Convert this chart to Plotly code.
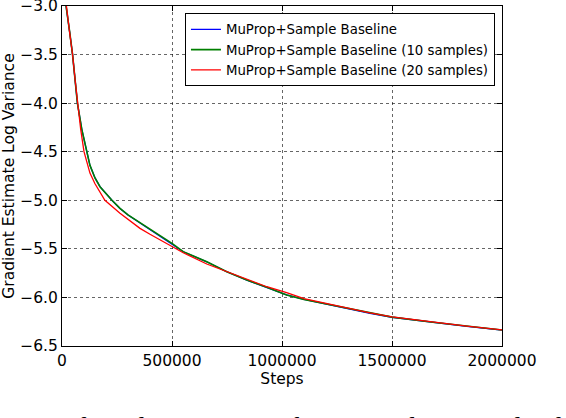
import plotly.graph_objects as go

# Steps (x) and log-variance values
steps_green = [0, 20000, 35000, 48000, 60000, 70000, 90000, 112000, 127000, 150000, 172700,
               227000, 263600, 300000, 354500, 400000, 500000, 551000, 658000, 749000, 840000,
               931000, 1021000, 1100000, 1200000, 1300000, 1400000, 1500000, 1686000, 1840000,
               2000000]
green_vals = [-2.70, -3.00, -3.27, -3.50, -3.76, -4.00, -4.27, -4.50, -4.64, -4.77, -4.86,
              -5.00, -5.083, -5.15, -5.231, -5.30, -5.443, -5.529, -5.632, -5.735, -5.82,
              -5.896, -5.975, -6.022, -6.068, -6.117, -6.162, -6.203, -6.256, -6.297,
              -6.335]

steps_blue = steps_green
blue_vals = [-2.70, -3.00, -3.27, -3.50, -3.76, -4.00, -4.27, -4.50, -4.64, -4.77, -4.86,
             -5.00, -5.085, -5.152, -5.233, -5.302, -5.445, -5.530, -5.633, -5.736, -5.821,
             -5.897, -5.974, -6.021, -6.069, -6.118, -6.163, -6.204, -6.257, -6.298,
             -6.336]

steps_red = [0, 20000, 35000, 48000, 60000, 70000, 85000, 100000, 127000, 150000, 172700,
             195000, 263600, 300000, 354500, 400000, 500000, 551000, 658000, 749000, 840000,
             931000, 1021000, 1100000, 1200000, 1300000, 1400000, 1500000, 1686000, 1840000,
             2000000]
red_vals = [-2.70, -3.00, -3.28, -3.50, -3.77, -4.00, -4.27, -4.50, -4.72, -4.83, -4.91,
            -5.00, -5.134, -5.20, -5.289, -5.35, -5.471, -5.54, -5.656, -5.735, -5.818,
            -5.890, -5.951, -6.012, -6.062, -6.113, -6.160, -6.201, -6.255, -6.296,
            -6.334]

series_names = ["MuProp+Sample Baseline",
                "MuProp+Sample Baseline (10 samples)",
                "MuProp+Sample Baseline (20 samples)"]
x_tick_vals = [0, 500000, 1000000, 1500000, 2000000]
x_tick_text = ["0", "500000", "1000000", "1500000", "2000000"]
y_tick_vals = [-6.5, -6.0, -5.5, -5.0, -4.5, -4.0, -3.5, -3.0]
caption = "iances for 2-layer SBN with 1, 10 and 20 samples for"

fig = go.Figure()
fig.add_trace(go.Scatter(x=steps_blue, y=blue_vals, mode="lines", name=series_names[0],
                         line=dict(color="#0000ff", width=1.3)))
fig.add_trace(go.Scatter(x=steps_green, y=green_vals, mode="lines", name=series_names[1],
                         line=dict(color="#007f00", width=1.6)))
fig.add_trace(go.Scatter(x=steps_red, y=red_vals, mode="lines", name=series_names[2],
                         line=dict(color="#ff0000", width=1.3)))

axis_font = dict(family="DejaVu Sans", size=15.5, color="black")
grid_col = "rgba(0,0,0,0.6)"
fig.update_layout(
    width=566, height=418,
    margin=dict(l=62, r=64, t=6, b=72, autoexpand=False),
    paper_bgcolor="white", plot_bgcolor="white",
    font=dict(family="DejaVu Sans", color="black"),
    showlegend=True,
    legend=dict(x=0.984, y=0.979, xanchor="right", yanchor="top",
                bgcolor="white", bordercolor="black", borderwidth=1,
                font=dict(family="DejaVu Sans", size=13.3, color="black"),
                tracegroupgap=0, itemwidth=30),
    xaxis=dict(range=[0, 2000000], tickvals=x_tick_vals, ticktext=x_tick_text,
               tickfont=axis_font, ticks="inside", ticklen=5, tickcolor="black",
               showline=True, linecolor="black", linewidth=1.2, mirror="ticks",
               showgrid=True, gridcolor=grid_col, griddash="dot", gridwidth=1,
               zeroline=False, automargin=False, ticklabeloverflow="allow",
               title=dict(text="Steps", font=axis_font, standoff=4)),
    yaxis=dict(range=[-6.5, -3.0], tickvals=y_tick_vals, tickformat=".1f",
               tickfont=axis_font, ticks="inside", ticklen=5, tickcolor="black",
               showline=True, linecolor="black", linewidth=1.2, mirror="ticks",
               showgrid=True, gridcolor=grid_col, griddash="dot", gridwidth=1,
               zeroline=False, automargin=False, ticklabeloverflow="allow",
               title=dict(text="Gradient Estimate Log Variance", font=axis_font, standoff=4)),
    annotations=[dict(text=caption, xref="paper", yref="paper",
                      x=(0 - 62) / 440, y=(346 - 427) / 340,
                      xanchor="left", yanchor="middle", showarrow=False,
                      font=dict(family="Liberation Serif", size=27.3, color="black"))],
)

fig.write_html("out.html", config={"displayModeBar": False},
               post_script="document.body.style.margin='0';document.body.style.overflow='hidden';")
